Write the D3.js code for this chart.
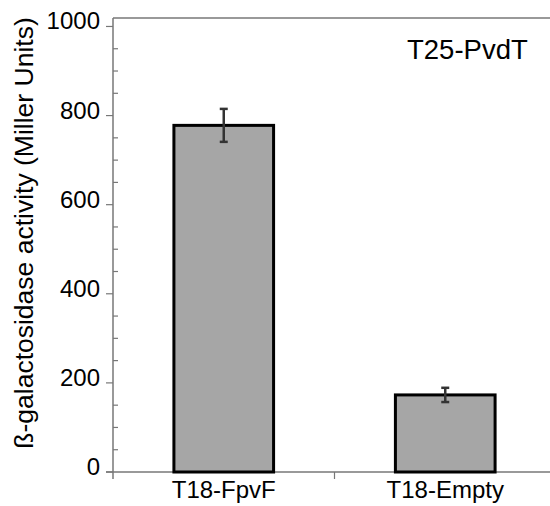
<!DOCTYPE html>
<html>
<head>
<meta charset="utf-8">
<script src="https://cdn.jsdelivr.net/npm/d3@7"></script>
<style>
  body { margin: 0; background: #fff; }
  text { font-family: "Liberation Sans", Arial, sans-serif; fill: #000; }
</style>
</head>
<body>
<svg width="550" height="506"></svg>
<script>
const categories = ["T18-FpvF", "T18-Empty"];
const values = [778, 173];
const errors = [37, 16];
const majorTicks = [0, 200, 400, 600, 800, 1000];
const minorTicks = d3.range(0, 1001, 50).filter(d => d % 200 != 0);

const svg = d3.select("svg");
const axisColor = "#777";

const y = d3.scaleLinear().domain([0, 1019]).range([472, 18]);
const x = d3.scaleBand().domain(categories).range([113, 556]).padding(0);
const barW = x.bandwidth() * 0.45;

// frame: top line, left axis, bottom axis
svg.append("line")
    .attr("x1", 113).attr("x2", 550)
    .attr("y1", y(1019)).attr("y2", y(1019))
    .attr("stroke", axisColor).attr("stroke-width", 1.5);

svg.append("line")
    .attr("x1", 113).attr("x2", 113)
    .attr("y1", y(1019)).attr("y2", 479)
    .attr("stroke", axisColor).attr("stroke-width", 1.5);

svg.append("line")
    .attr("x1", 106).attr("x2", 550)
    .attr("y1", y(0)).attr("y2", y(0))
    .attr("stroke", axisColor).attr("stroke-width", 1.5);

// y ticks
const yAxis = svg.append("g");
yAxis.selectAll(".major")
    .data(majorTicks)
    .join("line")
    .attr("x1", 106).attr("x2", 113)
    .attr("y1", d => y(d)).attr("y2", d => y(d))
    .attr("stroke", axisColor).attr("stroke-width", 1.2);

yAxis.selectAll(".minor")
    .data(minorTicks)
    .join("line")
    .attr("x1", 113).attr("x2", 118)
    .attr("y1", d => y(d)).attr("y2", d => y(d))
    .attr("stroke", axisColor).attr("stroke-width", 1.2);

yAxis.selectAll("text")
    .data(majorTicks)
    .join("text")
    .attr("x", 100)
    .attr("y", d => y(d) + 3)
    .attr("text-anchor", "end")
    .attr("font-size", 24)
    .text(d => d);

// x tick between categories
svg.append("line")
    .attr("x1", x(categories[1])).attr("x2", x(categories[1]))
    .attr("y1", y(0)).attr("y2", 479)
    .attr("stroke", axisColor).attr("stroke-width", 1.2);

svg.selectAll(".xlab")
    .data(categories)
    .join("text")
    .attr("x", d => x(d) + x.bandwidth() / 2)
    .attr("y", 498)
    .attr("text-anchor", "middle")
    .attr("font-size", 24)
    .text(d => d);

// bars
svg.selectAll(".bar")
    .data(categories)
    .join("rect")
    .attr("x", d => x(d) + (x.bandwidth() - barW) / 2)
    .attr("width", barW)
    .attr("y", (d, i) => y(values[i]))
    .attr("height", (d, i) => y(0) - y(values[i]))
    .attr("fill", "#a6a6a6")
    .attr("stroke", "#000")
    .attr("stroke-width", 3);

// error bars
const err = svg.append("g").attr("stroke", "#333").attr("stroke-width", 2.5);
categories.forEach((c, i) => {
    const cx = x(c) + x.bandwidth() / 2;
    err.append("line")
        .attr("x1", cx).attr("x2", cx)
        .attr("y1", y(values[i] + errors[i])).attr("y2", y(values[i] - errors[i]));
    [values[i] + errors[i], values[i] - errors[i]].forEach(v => {
        err.append("line")
            .attr("x1", cx - 4).attr("x2", cx + 4)
            .attr("y1", y(v)).attr("y2", y(v));
    });
});

// axis label
svg.append("text")
    .attr("transform", "translate(33," + 233 + ") rotate(-90)")
    .attr("text-anchor", "middle")
    .attr("font-size", 26.5)
    .text("ß-galactosidase activity (Miller Units)");

// title
svg.append("text")
    .attr("x", 407)
    .attr("y", 59)
    .attr("font-size", 27.5)
    .text("T25-PvdT");
</script>
</body>
</html>
